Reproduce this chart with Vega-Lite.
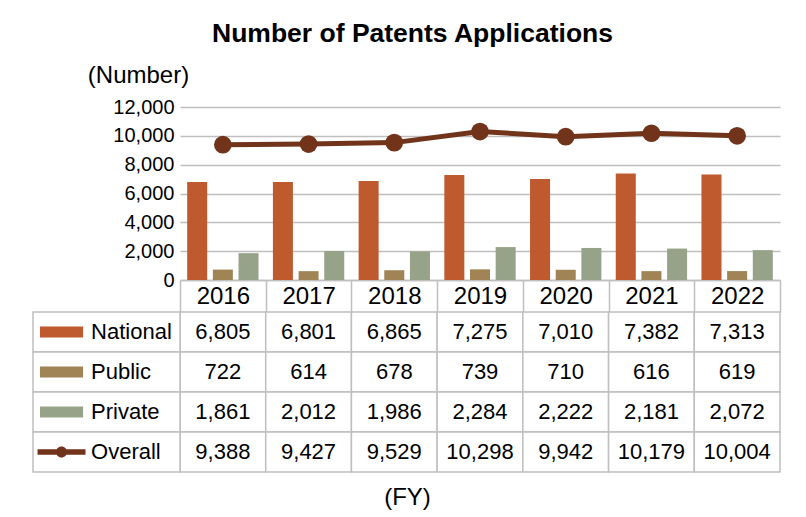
{
  "$schema": "https://vega.github.io/schema/vega-lite/v6.json",
  "width": 747,
  "height": 365,
  "autosize": {"type": "none"},
  "padding": {"left": 33, "top": 107, "right": 26, "bottom": 45},
  "background": "white",
  "config": {"font": "Liberation Sans", "view": {"stroke": null}},
  "title": {"text": "Number of Patents Applications", "fontSize": 26.5, "fontWeight": "bold", "color": "black", "anchor": "middle", "frame": "group", "offset": 16, "dx": 6},
  "datasets": {
    "d": [
      {"year": "2016", "series": "National", "value": 6805},
      {"year": "2017", "series": "National", "value": 6801},
      {"year": "2018", "series": "National", "value": 6865},
      {"year": "2019", "series": "National", "value": 7275},
      {"year": "2020", "series": "National", "value": 7010},
      {"year": "2021", "series": "National", "value": 7382},
      {"year": "2022", "series": "National", "value": 7313},
      {"year": "2016", "series": "Public", "value": 722},
      {"year": "2017", "series": "Public", "value": 614},
      {"year": "2018", "series": "Public", "value": 678},
      {"year": "2019", "series": "Public", "value": 739},
      {"year": "2020", "series": "Public", "value": 710},
      {"year": "2021", "series": "Public", "value": 616},
      {"year": "2022", "series": "Public", "value": 619},
      {"year": "2016", "series": "Private", "value": 1861},
      {"year": "2017", "series": "Private", "value": 2012},
      {"year": "2018", "series": "Private", "value": 1986},
      {"year": "2019", "series": "Private", "value": 2284},
      {"year": "2020", "series": "Private", "value": 2222},
      {"year": "2021", "series": "Private", "value": 2181},
      {"year": "2022", "series": "Private", "value": 2072},
      {"year": "2016", "series": "Overall", "value": 9388},
      {"year": "2017", "series": "Overall", "value": 9427},
      {"year": "2018", "series": "Overall", "value": 9529},
      {"year": "2019", "series": "Overall", "value": 10298},
      {"year": "2020", "series": "Overall", "value": 9942},
      {"year": "2021", "series": "Overall", "value": 10179},
      {"year": "2022", "series": "Overall", "value": 10004}
    ]
  },
  "data": {"name": "d"},
  "layer": [
    {
      "layer": [
        {
          "transform": [{"filter": "datum.series !== 'Overall'"}],
          "mark": {"type": "bar"},
          "encoding": {
            "x": {"field": "year", "type": "nominal", "scale": {"range": [147, 747], "paddingInner": 0, "paddingOuter": 0},
              "axis": {"orient": "bottom", "offset": -192, "title": null, "labelFontSize": 24, "labelColor": "black", "labelAngle": 0, "labelBaseline": "middle", "labelPadding": -16, "ticks": true, "tickBand": "extent", "tickSize": 32, "tickColor": "#BFBFBF", "tickWidth": 1.5, "domain": true, "domainColor": "#BFBFBF", "domainWidth": 1.5, "grid": false}},
            "xOffset": {"field": "series", "type": "nominal", "scale": {"domain": ["National", "Public", "Private"], "paddingInner": 0.22, "paddingOuter": 0.28}},
            "y": {"field": "value", "type": "quantitative", "scale": {"domain": [0, 12000], "range": [173, 0]},
              "axis": {"orient": "left", "offset": -147, "values": [0, 2000, 4000, 6000, 8000, 10000, 12000], "format": ",d", "labelFontSize": 20, "labelColor": "black", "labelPadding": 6, "ticks": false, "domain": false, "grid": true, "gridColor": "#BFBFBF", "gridWidth": 1.5, "title": "(Number)", "titleAngle": 0, "titleX": -42, "titleY": -32, "titleAlign": "center", "titleBaseline": "middle", "titleFontSize": 24, "titleFontWeight": "normal", "titleColor": "black"}},
            "color": {"field": "series", "type": "nominal", "scale": {"domain": ["National", "Public", "Private", "Overall"], "range": ["#BE5A2E", "#A08456", "#97A388", "#71341A"]}, "legend": null}
          }
        },
        {
          "transform": [{"filter": "datum.series === 'Overall'"}],
          "mark": {"type": "line", "color": "#71341A", "strokeWidth": 5},
          "encoding": {
            "x": {"field": "year", "type": "nominal"},
            "y": {"field": "value", "type": "quantitative"}
          }
        },
        {
          "transform": [{"filter": "datum.series === 'Overall'"}],
          "mark": {"type": "point", "filled": true, "size": 314, "color": "#71341A", "opacity": 1},
          "encoding": {
            "x": {"field": "year", "type": "nominal"},
            "y": {"field": "value", "type": "quantitative"}
          }
        }
      ]
    },
    {
      "layer": [
        {
          "mark": {"type": "rect", "fill": "white", "stroke": "#BFBFBF", "strokeWidth": 1.5},
          "encoding": {
            "x": {"field": "year", "type": "nominal", "scale": {"range": [147, 747], "paddingInner": 0, "paddingOuter": 0},
              "axis": {"orient": "bottom", "labels": false, "ticks": false, "domain": false, "grid": false, "title": "(FY)", "titleX": 374, "titleY": 25, "titleBaseline": "middle", "titleFontSize": 24, "titleFontWeight": "normal", "titleColor": "black"}},
            "y": {"field": "series", "type": "nominal", "scale": {"domain": ["National", "Public", "Private", "Overall"], "range": [205, 365], "paddingInner": 0, "paddingOuter": 0}, "axis": null}
          }
        },
        {
          "mark": {"type": "text", "fontSize": 22, "color": "black"},
          "encoding": {
            "x": {"field": "year", "type": "nominal",
              "axis": {"orient": "bottom", "labels": false, "ticks": false, "domain": false, "grid": false, "title": "(FY)", "titleX": 374, "titleY": 25, "titleBaseline": "middle", "titleFontSize": 24, "titleFontWeight": "normal", "titleColor": "black"}},
            "y": {"field": "series", "type": "nominal", "axis": null},
            "text": {"field": "value", "type": "quantitative", "format": ","}
          }
        }
      ]
    },
    {
      "transform": [{"aggregate": [{"op": "count", "as": "n"}], "groupby": ["series"]}],
      "layer": [
        {
          "mark": {"type": "rect", "fill": "white", "stroke": "#BFBFBF", "strokeWidth": 1.5},
          "encoding": {
            "x": {"datum": "L", "type": "nominal", "scale": {"range": [0, 147], "paddingInner": 0, "paddingOuter": 0}, "axis": null},
            "y": {"field": "series", "type": "nominal", "scale": {"domain": ["National", "Public", "Private", "Overall"], "range": [205, 365], "paddingInner": 0, "paddingOuter": 0}, "axis": null}
          }
        },
        {
          "mark": {"type": "point", "filled": true, "size": 1936, "opacity": 1},
          "encoding": {
            "x": {"datum": "L", "type": "nominal", "bandPosition": 0.194, "axis": null},
            "y": {"field": "series", "type": "nominal", "axis": null},
            "shape": {"field": "series", "type": "nominal", "scale": {"domain": ["National", "Public", "Private", "Overall"], "range": ["M-0.98,-0.25H0.98V0.25H-0.98Z", "M-0.98,-0.25H0.98V0.25H-0.98Z", "M-0.98,-0.25H0.98V0.25H-0.98Z", "M-1.09,-0.12H1.09V0.12H-1.09Z M0.25,0A0.25,0.25,0,1,1,-0.25,0A0.25,0.25,0,1,1,0.25,0Z"]}, "legend": null},
            "color": {"field": "series", "type": "nominal", "legend": null}
          }
        },
        {
          "mark": {"type": "text", "fontSize": 22, "color": "black", "align": "left"},
          "encoding": {
            "x": {"datum": "L", "type": "nominal", "bandPosition": 0.395, "axis": null},
            "y": {"field": "series", "type": "nominal", "axis": null},
            "text": {"field": "series", "type": "nominal"}
          }
        }
      ]
    }
  ],
  "resolve": {"scale": {"x": "independent", "y": "independent", "color": "shared"}, "axis": {"x": "independent", "y": "independent"}}
}
